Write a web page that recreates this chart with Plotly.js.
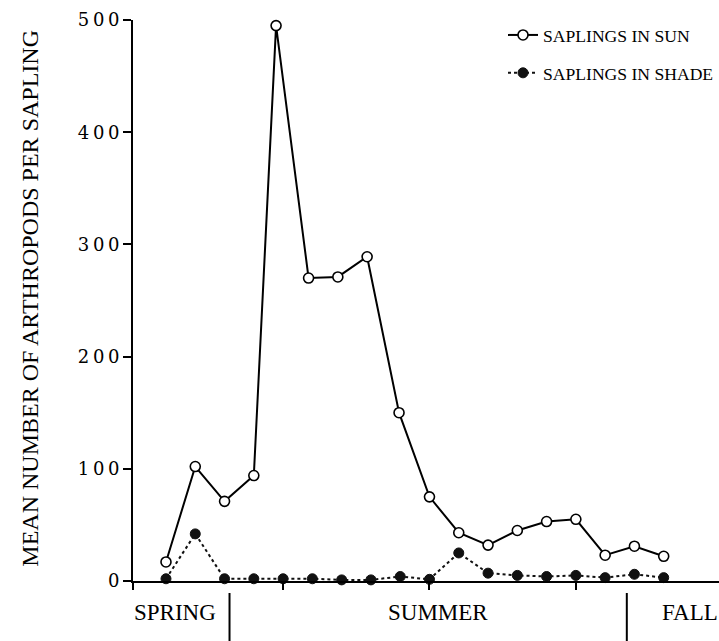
<!DOCTYPE html>
<html>
<head>
<meta charset="utf-8">
<script src="https://cdn.plot.ly/plotly-3.0.1.min.js"></script>
<style>html,body{margin:0;padding:0;background:#fff;}#chart{width:719px;height:641px;}</style>
</head>
<body>
<div id="chart"></div>
<script>
// Sample dates (index along the season)
var sunX = [0, 1, 2, 3, 3.76, 4.87, 5.87, 6.87, 7.96, 9, 10, 11, 12, 13, 14, 15, 16, 17];
var sunY = [17, 102, 71, 94, 495, 270, 271, 289, 150, 75, 43, 32, 45, 53, 55, 23, 31, 22];
var shadeX = [0, 1, 2, 3, 4, 5, 6, 7, 8, 9, 10, 11, 12, 13, 14, 15, 16, 17];
var shadeY = [2, 42, 2, 2, 2, 2, 1, 1, 4, 1.5, 25, 7, 5, 4, 5, 3, 6, 3];

var seriesNames = ['SAPLINGS IN SUN', 'SAPLINGS IN SHADE'];
var yTickVals = [0, 100, 200, 300, 400, 500];
var xTickVals = [4, 9, 14];
var seasonLabels = ['SPRING', 'SUMMER', 'FALL'];
var seasonLabelX = [0.3, 9.29, 16.87];
var seasonBounds = [2.17, 15.74];
var yTitle = 'MEAN NUMBER OF ARTHROPODS PER SAPLING';

var serif = 'Liberation Serif, Times New Roman, serif';

var traces = [
  {
    x: shadeX, y: shadeY, name: seriesNames[1], type: 'scatter', mode: 'lines+markers',
    line: {color: '#111', width: 2, dash: 'dot'},
    marker: {symbol: 'circle', size: 10, color: '#111', line: {color: '#111', width: 1}},
    cliponaxis: false, legendrank: 2, legendgroup: 'b'
  },
  {
    x: sunX, y: sunY, name: seriesNames[0], type: 'scatter', mode: 'lines+markers',
    line: {color: '#000', width: 2},
    marker: {symbol: 'circle', size: 10, color: '#fff', line: {color: '#000', width: 1.6}},
    cliponaxis: false, legendrank: 1, legendgroup: 'a'
  }
];

var annotations = [];
for (var i = 0; i < seasonLabels.length; i++) {
  annotations.push({
    text: seasonLabels[i], x: seasonLabelX[i], xref: 'x', y: -0.057, yref: 'paper',
    xanchor: i === 2 ? 'left' : 'center', yanchor: 'middle', showarrow: false,
    font: {family: serif, size: 23, color: '#000'}
  });
}
annotations.push({
  text: yTitle, textangle: -90, x: -0.1758, xref: 'paper', y: 0.505, yref: 'paper',
  xanchor: 'center', yanchor: 'middle', showarrow: false,
  font: {family: serif, size: 24, color: '#000'}
});

var shapes = [];
for (var j = 0; j < seasonBounds.length; j++) {
  shapes.push({type: 'line', xref: 'x', yref: 'paper', x0: seasonBounds[j], x1: seasonBounds[j],
    y0: -0.0214, y1: -0.107, line: {color: '#000', width: 2}});
}
// axis overhangs at the origin
shapes.push({type: 'line', xref: 'paper', yref: 'paper', x0: 0, x1: 0, y0: 0, y1: -0.016, line: {color: '#000', width: 2}});
shapes.push({type: 'line', xref: 'paper', yref: 'paper', x0: -0.0102, x1: 0, y0: 0, y1: 0, line: {color: '#000', width: 2}});

var layout = {
  width: 719, height: 641,
  margin: {l: 133, r: 0, t: 20, b: 60, pad: 0},
  paper_bgcolor: '#fff', plot_bgcolor: '#fff',
  showlegend: true,
  legend: {
    x: 1, y: (581 - 17) / 561, xref: 'paper', yref: 'paper',
    xanchor: 'right', yanchor: 'top',
    traceorder: 'grouped', tracegroupgap: 12,
    font: {family: serif, size: 17.6, color: '#000'},
    bgcolor: 'rgba(0,0,0,0)'
  },
  xaxis: {
    range: [-1.127, 18.889], showgrid: false, zeroline: false,
    showline: true, linecolor: '#000', linewidth: 2,
    tickvals: xTickVals, ticktext: xTickVals.map(function(){return '';}),
    ticks: 'outside', ticklen: 7, tickwidth: 2, tickcolor: '#000',
    fixedrange: true
  },
  yaxis: {
    range: [0, 500], showgrid: false, zeroline: false,
    showline: true, linecolor: '#000', linewidth: 2,
    tickvals: yTickVals,
    ticktext: yTickVals.map(function(v){return String(v).split('').join('\u2009');}),
    ticks: 'outside', ticklen: 8, tickwidth: 2, tickcolor: '#000',
    tickfont: {family: 'DejaVu Serif, serif', size: 18, color: '#000'},
    fixedrange: true
  },
  annotations: annotations,
  shapes: shapes
};

Plotly.newPlot('chart', traces, layout, {displayModeBar: false, staticPlot: true});
</script>
</body>
</html>
